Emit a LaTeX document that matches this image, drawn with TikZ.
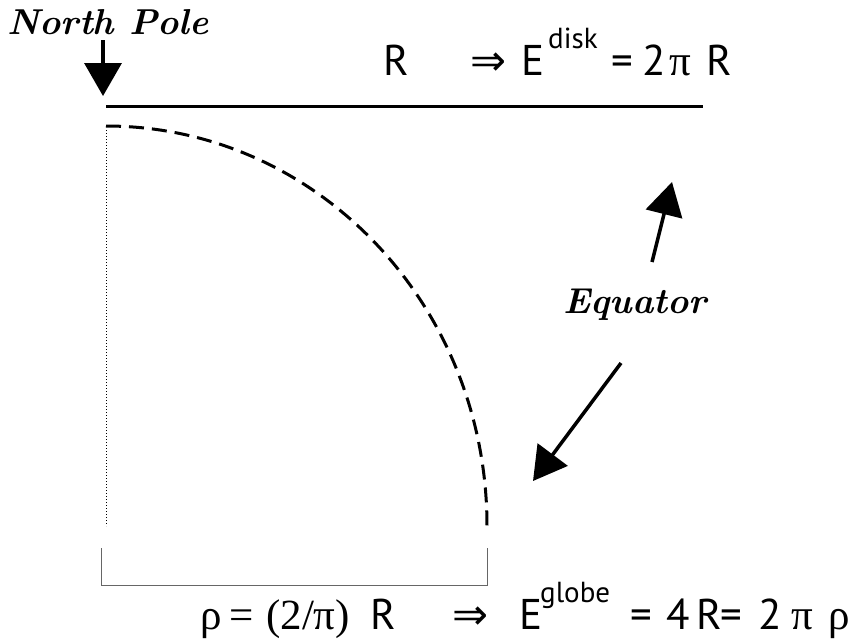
\documentclass[tikz,border=0pt]{standalone}
\usepackage{fontspec}
\setmainfont{PT Sans}
\newfontfamily\grk{Liberation Serif}
\newfontfamily\sym{DejaVu Sans}
\newfontfamily\scr{Latin Modern Roman}
\usetikzlibrary{arrows.meta}
\begin{document}
\begin{tikzpicture}[x=1pt,y=-1pt,
  txt/.style={inner sep=0pt,anchor=base west,font=\fontsize{43}{48}\selectfont},
  sup/.style={inner sep=0pt,anchor=base west,font=\fontsize{29}{32}\selectfont},
  fancy/.style={inner sep=0pt,font=\scr\bfseries\itshape\fontsize{36}{40}\selectfont},
  bigarrow/.style={line width=3.5pt,-{Triangle[length=33pt,width=37pt]}},
  thickline/.style={line width=3pt}]
\useasboundingbox (0,0) rectangle (857,641);
% north pole
\node[fancy] (np) at (108,22) {North Pole};
\coordinate (npA) at (103,40);
\coordinate (npB) at (103,96);
\draw[bigarrow] (npA) -- (npB);
% disk line
\coordinate (d1) at (106,106);
\coordinate (d2) at (703,106);
\draw[thickline] (d1) -- (d2);
% dashed arc
\coordinate (a1) at (106,126);
\draw[thickline,dash pattern=on 15pt off 8pt] (a1) arc[start angle=-90,end angle=0,x radius=381,y radius=400];
% dotted line
\coordinate (p1) at (106,130);
\coordinate (p2) at (106,526);
\draw[line width=0.8pt,dash pattern=on 1pt off 2pt] (p1) -- (p2);
% bracket
\coordinate (b1) at (101,548);
\coordinate (b2) at (101,585);
\coordinate (b3) at (487,585);
\coordinate (b4) at (487,548);
\draw[line width=1pt,black!60] (b1) -- (b2) -- (b3) -- (b4);
% equator
\node[fancy] (eq) at (635,305) {Equator};
\coordinate (e1) at (652,262);
\coordinate (e2) at (672,182);
\draw[bigarrow] (e1) -- (e2);
\coordinate (e3) at (621,363);
\coordinate (e4) at (533,481);
\draw[bigarrow] (e3) -- (e4);
% top formula
\node[txt] (tR) at (383,75) {R};
\node[txt] (tImp) at (470,75) {\sym ⇒};
\node[txt] (tE) at (521,75) {E};
\node[sup] (tDisk) at (548,48) {disk};
\node[txt] (tEq) at (611,75) {=};
\node[txt] (t2) at (642,75) {2};
\node[txt] (tPi) at (669,75) {\grk π};
\node[txt] (tR2) at (706,75) {R};
% bottom formula
\node[txt] (bRho) at (200,629) {\grk ρ};
\node[txt] (bEq) at (229,629) {\grk =};
\node[txt] (bFrac) at (266,629) {\grk (2/π)};
\node[txt] (bR) at (370,629) {R};
\node[txt] (bImp) at (452,629) {\sym ⇒};
\node[txt] (bE) at (519,629) {E};
\node[sup] (bGlobe) at (540,602) {globe};
\node[txt] (bEq2) at (630,629) {=};
\node[txt] (b4) at (666,629) {4};
\node[txt] (bR2) at (696,629) {R};
\node[txt] (bEq3) at (720,629) {=};
\node[txt] (b2) at (758,629) {2};
\node[txt] (bPi) at (791,629) {\grk π};
\node[txt] (bRho2) at (828,629) {\grk ρ};
\end{tikzpicture}
\end{document}
